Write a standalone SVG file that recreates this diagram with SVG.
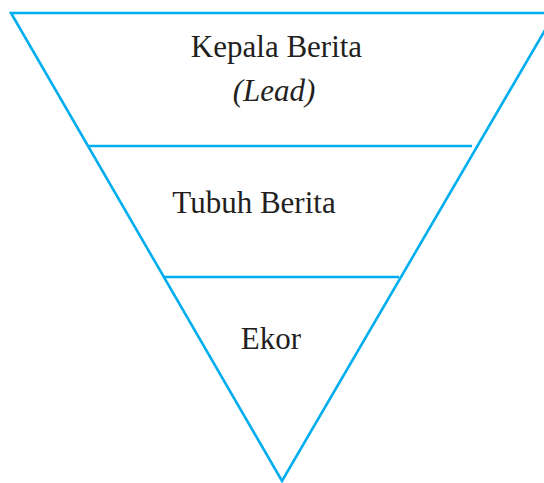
<svg xmlns="http://www.w3.org/2000/svg" width="544" height="483" viewBox="0 0 544 483">
<style>
.ln{stroke:#00AEEF;stroke-width:2.6;fill:none;stroke-linejoin:miter}
.t{font-family:"Liberation Serif","Times New Roman",serif;font-size:31px;fill:#231F20;text-anchor:middle}
.i{font-style:italic}
</style>
<rect width="544" height="483" fill="#fff"/>
<g id="connectors">
<polyline class="ln" points="544,13 11,13 282,481 555,13"/>
<line class="ln" x1="88" y1="146" x2="472" y2="146"/>
<line class="ln" x1="163" y1="277" x2="399" y2="277"/>
</g>
<g id="kepala"><text class="t" x="276.5" y="57">Kepala Berita</text><text class="t i" x="274" y="101">(Lead)</text></g>
<g id="tubuh"><text class="t" x="254" y="213">Tubuh Berita</text></g>
<g id="ekor"><text class="t" x="271" y="349">Ekor</text></g>
</svg>
